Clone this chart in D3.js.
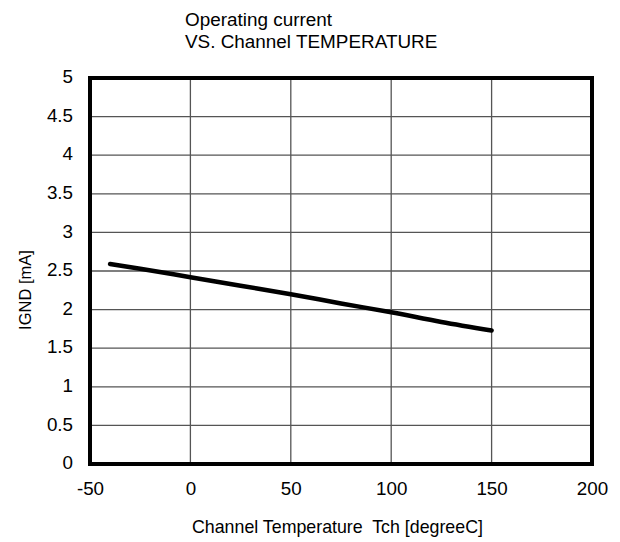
<!DOCTYPE html>
<html><head><meta charset="utf-8">
<script src="https://cdn.jsdelivr.net/npm/d3@7"></script>
<style>body{margin:0;background:#fff;} text{font-family:"Liberation Sans",Arial,sans-serif;fill:#000;white-space:pre;}</style>
</head><body>
<svg id="c" width="620" height="542"></svg>
<script>
const temps = [-40, -25, 0, 25, 50, 75, 100, 125, 150];
const ignd  = [2.59, 2.53, 2.42, 2.31, 2.20, 2.08, 1.965, 1.84, 1.73];
const xTicks = [-50, 0, 50, 100, 150, 200];
const yTicks = [0, 0.5, 1, 1.5, 2, 2.5, 3, 3.5, 4, 4.5, 5];
const titleLines = ["Operating current", "VS. Channel TEMPERATURE"];
const xTitle = "Channel Temperature  Tch [degreeC]";
const yTitle = "IGND [mA]";

const svg = d3.select("#c");
const L = 90, R = 592, T = 78, B = 464;
const x = d3.scaleLinear().domain([-50, 200]).range([L, R]);
const y = d3.scaleLinear().domain([0, 5]).range([B, T]);
const FF = "Liberation Sans, Arial, sans-serif";

// grid
svg.append("g").selectAll("line").data(xTicks.slice(1, -1)).join("line")
  .attr("x1", d => x(d)).attr("x2", d => x(d)).attr("y1", T).attr("y2", B)
  .attr("stroke", "#555").attr("stroke-width", 1.3);
svg.append("g").selectAll("line").data(yTicks.slice(1, -1)).join("line")
  .attr("y1", d => y(d)).attr("y2", d => y(d)).attr("x1", L).attr("x2", R)
  .attr("stroke", "#555").attr("stroke-width", 1.3);

// axes labels via d3 axes
const xa = svg.append("g").attr("transform", `translate(0,${B})`)
  .call(d3.axisBottom(x).tickValues(xTicks).tickSize(0).tickPadding(18).tickFormat(d => String(d)));
xa.select(".domain").remove();
xa.selectAll("text").attr("font-size", 18.8).attr("font-family", FF).attr("fill", "#000");
const ya = svg.append("g").attr("transform", `translate(${L},0)`)
  .call(d3.axisLeft(y).tickValues(yTicks).tickSize(0).tickPadding(17).tickFormat(d => String(d)));
ya.select(".domain").remove();
ya.selectAll("text").attr("font-size", 18.8).attr("font-family", FF).attr("fill", "#000").attr("dy", "0.25em");

// frame
svg.append("rect").attr("x", L).attr("y", T).attr("width", R - L).attr("height", B - T)
  .attr("fill", "none").attr("stroke", "#000").attr("stroke-width", 4);

// curve
svg.append("path").datum(temps.map((t, i) => [t, ignd[i]]))
  .attr("d", d3.line().x(d => x(d[0])).y(d => y(d[1])).curve(d3.curveMonotoneX))
  .attr("fill", "none").attr("stroke", "#000").attr("stroke-width", 4.5).attr("stroke-linecap", "round");

// titles
svg.append("g").selectAll("text").data(titleLines).join("text")
  .attr("x", 185).attr("y", (d, i) => 26 + i * 22).attr("font-size", 18.9).text(d => d);
svg.append("text").attr("x", 192).attr("y", 533).attr("font-size", 17.8).text(xTitle);
svg.append("text").attr("transform", "translate(31,290) rotate(-90)").attr("text-anchor", "middle").attr("font-size", 16.5).text(yTitle);
</script>
</body></html>
